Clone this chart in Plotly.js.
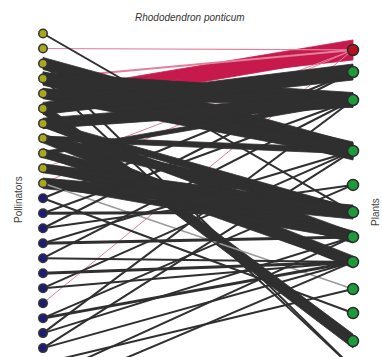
<!DOCTYPE html>
<html>
<head>
<meta charset="utf-8">
<script src="https://cdn.plot.ly/plotly-3.0.1.min.js"></script>
<style>html,body{margin:0;padding:0;background:#fff;}#chart{width:382px;height:357px;}</style>
</head>
<body>
<div id="chart"></div>
<script>
// Pollinator groups (0..10 yellow group, 11..24 blue group)
var pollinatorGroup = ["y","y","y","y","y","y","y","y","y","y","y",
                       "b","b","b","b","b","b","b","b","b","b","b","b","b","b"];
// Plants: first is Rhododendron ponticum; positions along the plant column
var plantNames = ["Rhododendron ponticum","P2","P3","P4","P5","P6","P7","P8","P9","P10","P11","P12"];
var plantPos = [1.10, 2.57, 4.44, 7.84, 10.11, 11.92, 13.58, 15.25, 17.06, 18.66, 20.53, 22.33];
// Interaction links: pollinator index, plant index, interaction strength
var linkFrom = [4, 5, 1, 3, 9, 10, 18,
                0, 2, 2, 3, 3, 3, 4, 4, 5, 5, 6, 6, 6, 7, 7, 7, 8, 8, 8, 9, 9, 10, 10, 10,
                11, 11, 12, 12, 13, 13, 14, 14, 15, 15, 16, 17, 17, 19, 19, 20, 20, 21, 21, 22, 23, 24];
var linkTo   = [0, 0, 0, 0, 0, 0, 0,
                5, 3, 11, 11, 2, 3, 3, 2, 1, 10, 2, 6, 5, 7, 5, 3, 6, 2, 7, 5, 6, 5, 6, 8,
                9, 1, 5, 2, 1, 4, 6, 3, 7, 2, 7, 7, 3, 7, 4, 2, 6, 3, 7, 8, 6, 7];
var linkWeight = [20, 12, 1.2, 2, 1, 1, 1,
                  2, 16, 2, 2, 15, 18, 14, 12, 16, 14, 14, 10, 8, 12, 10, 6, 12, 5, 8, 12, 8, 14, 6, 1.5,
                  2, 2, 3, 2, 2, 2, 3, 2, 2, 2, 3, 2, 2, 3, 2, 2, 2, 2, 2, 2, 2, 2];

var PX = 14.98;          // pixels per pollinator step (y unit)
var leftFactor = 0.75;   // link width at pollinator end relative to plant end

var traces = [];
function linkColor(q, w){
  if (q === 0) return w >= 5 ? '#c8194c' : '#e0809c';
  if (q === 8 && w < 2) return '#9a9a9a';
  return '#2f2f2f';
}
function addLink(k){
  var p = linkFrom[k], q = linkTo[k], w = linkWeight[k];
  var col = linkColor(q, w), yq = plantPos[q];
  if (w <= 3) {
    traces.push({type:'scatter', mode:'lines', x:[0,1], y:[p, yq],
      line:{color:col, width:w}, hoverinfo:'skip', showlegend:false});
  } else {
    // Rhododendron links taper to a point at the pollinator end
    var lf = (q === 0) ? 0.15 : leftFactor;
    var hl = w*lf/2/PX, hr = w/2/PX;
    traces.push({type:'scatter', mode:'lines', x:[0,1,1,0,0], y:[p-hl, yq-hr, yq+hr, p+hl, p-hl],
      fill:'toself', fillcolor:col, line:{color:col, width:0.8},
      hoverinfo:'skip', showlegend:false});
  }
}
// Rhododendron links underneath, then the grey ones
for (var k=0;k<linkFrom.length;k++){ if (linkTo[k]===0) addLink(k); }
for (var k=0;k<linkFrom.length;k++){ if (linkTo[k]!==0) addLink(k); }

var polY = pollinatorGroup.map(function(g,i){return i;});
traces.push({type:'scatter', mode:'markers', x:polY.map(function(){return 0;}), y:polY,
  marker:{size:8.5, color:pollinatorGroup.map(function(g){return g==='y'?'#a8a81e':'#1c1c78';}),
          line:{color:'#333', width:1.5}}, hoverinfo:'skip', showlegend:false});
traces.push({type:'scatter', mode:'markers', x:plantPos.map(function(){return 1;}), y:plantPos,
  marker:{size:11, color:plantPos.map(function(v,i){return i===0?'#b5121f':'#1d9a3c';}),
          line:{color:'#2a2a2a', width:1.5}}, hoverinfo:'skip', showlegend:false});

var layout = {
  width:382, height:357, margin:{l:0,r:0,t:0,b:0},
  paper_bgcolor:'#fff', plot_bgcolor:'#fff',
  xaxis:{range:[-0.1387,1.0935], visible:false, fixedrange:true},
  yaxis:{range:[21.595,-2.236], visible:false, fixedrange:true},
  font:{family:'Liberation Sans, Arial, sans-serif', color:'#333'},
  annotations:[
    {text:'<i>' + plantNames[0] + '</i>', xref:'paper', yref:'paper', x:0.497, y:0.952,
     showarrow:false, font:{size:10, color:'#333'}, xanchor:'center', yanchor:'middle'},
    {text:'Pollinators', xref:'paper', yref:'paper', x:18/382, y:1-200/357, textangle:-90,
     showarrow:false, font:{size:10, color:'#444'}, xanchor:'center', yanchor:'middle'},
    {text:'Plants', xref:'paper', yref:'paper', x:375/382, y:1-212/357, textangle:-90,
     showarrow:false, font:{size:10, color:'#444'}, xanchor:'center', yanchor:'middle'}
  ]
};
Plotly.newPlot('chart', traces, layout, {staticPlot:true, displayModeBar:false});
</script>
</body>
</html>
